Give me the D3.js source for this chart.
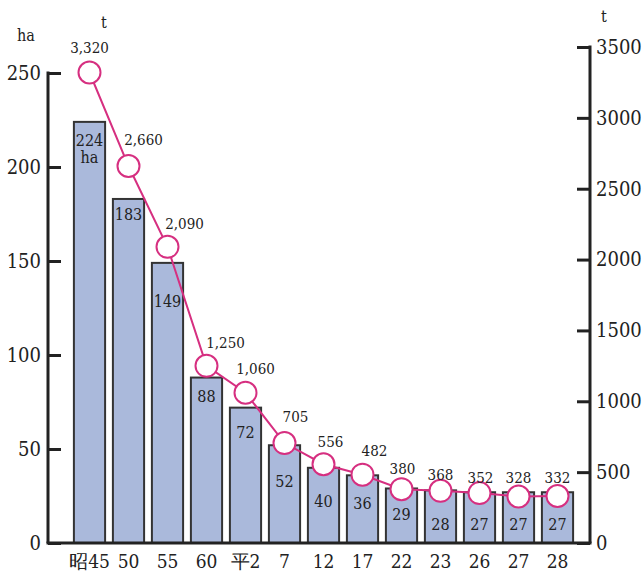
<!DOCTYPE html>
<html>
<head>
<meta charset="utf-8">
<script src="https://cdn.jsdelivr.net/npm/d3@7"></script>
<style>
  body { margin: 0; background: #fff; }
  svg text { font-family: "DejaVu Serif Condensed", "DejaVu Serif", serif; font-stretch: condensed; }
</style>
</head>
<body>
<svg id="chart" width="642" height="572"></svg>
<script>
// data
const years = ["昭45", "50", "55", "60", "平2", "7", "12", "17", "22", "23", "26", "27", "28"];
const areaHa = [224, 183, 149, 88, 72, 52, 40, 36, 29, 28, 27, 27, 27];
const harvestT = [3320, 2660, 2090, 1250, 1060, 705, 556, 482, 380, 368, 352, 328, 332];
const leftTicks = [0, 50, 100, 150, 200, 250];
const rightTicks = [0, 500, 1000, 1500, 2000, 2500, 3000, 3500];

// label nudges (layout only)
const barLabelDy = [24, 21, 44, 24, 30, 42, 39, 34, 32, 40, 38, 38, 38];
const lineLabelDx = [0, 15, 17, 19, 10, 11, 7, 12, 1, 0, 1, 0, 0];
const lineLabelDy = [-20, -21, -18, -18, -19, -21, -17, -19, -15, -11, -10, -14, -13];

const svg = d3.select("#chart");
const bottom = 543, axisL = 48, axisR = 590;

const x = d3.scaleBand().domain(years).range([70, 577]).paddingInner(0.2).paddingOuter(0.1);
const yL = d3.scaleLinear().domain([0, 250]).range([bottom, 73]);
const yR = d3.scaleLinear().domain([0, 3500]).range([bottom, 47]);

const pink = "#d62f80";

// bars
svg.selectAll("rect.bar")
  .data(areaHa)
  .enter().append("rect")
  .attr("class", "bar")
  .attr("x", (d, i) => x(years[i]))
  .attr("y", d => yL(d))
  .attr("width", x.bandwidth())
  .attr("height", d => bottom - yL(d))
  .attr("fill", "#aab9db")
  .attr("stroke", "#333")
  .attr("stroke-width", 2);

// bar value labels
svg.selectAll("text.barlab")
  .data(areaHa)
  .enter().append("text")
  .attr("class", "barlab")
  .attr("x", (d, i) => x(years[i]) + x.bandwidth() / 2)
  .attr("y", (d, i) => yL(d) + barLabelDy[i])
  .attr("text-anchor", "middle")
  .attr("font-size", 16)
  .attr("fill", "#222")
  .text(d => d);

svg.append("text")
  .attr("x", x(years[0]) + x.bandwidth() / 2)
  .attr("y", yL(areaHa[0]) + barLabelDy[0] + 17)
  .attr("text-anchor", "middle")
  .attr("font-size", 16)
  .attr("fill", "#222")
  .text("ha");

// axes
const axisLeft = d3.axisLeft(yL).tickValues(leftTicks).tickSize(-13).tickPadding(20);
const gl = svg.append("g").attr("transform", `translate(${axisL},0)`).call(axisLeft);
const axisRight = d3.axisRight(yR).tickValues(rightTicks).tickSize(-13).tickPadding(19)
  .tickFormat(d3.format("d"));
const gr = svg.append("g").attr("transform", `translate(${axisR},0)`).call(axisRight);

[gl, gr].forEach(g => {
  g.select(".domain").remove();
  g.selectAll(".tick line").attr("stroke", "#222").attr("stroke-width", 3);
  g.selectAll(".tick text")
    .attr("font-size", 20)
    .attr("fill", "#222");
});
gl.selectAll(".tick text").attr("dx", 13);
gr.selectAll(".tick text").attr("dx", -13);

// axis frame lines
svg.append("line").attr("x1", axisL).attr("x2", axisL).attr("y1", yL(250) - 1.5).attr("y2", bottom)
  .attr("stroke", "#222").attr("stroke-width", 3);
svg.append("line").attr("x1", axisR).attr("x2", axisR).attr("y1", yR(3500) - 1.5).attr("y2", bottom)
  .attr("stroke", "#222").attr("stroke-width", 3);
svg.append("line").attr("x1", axisL - 1.5).attr("x2", axisR + 1.5).attr("y1", bottom).attr("y2", bottom)
  .attr("stroke", "#222").attr("stroke-width", 3);

// category labels
svg.selectAll("text.cat")
  .data(years)
  .enter().append("text")
  .attr("class", "cat")
  .attr("x", d => x(d) + x.bandwidth() / 2)
  .attr("y", 568)
  .attr("text-anchor", "middle")
  .attr("font-size", 19)
  .attr("fill", "#222")
  .text(d => d);

// line
const cx = (d, i) => x(years[i]) + x.bandwidth() / 2;
const line = d3.line().x(cx).y(d => yR(d));
svg.append("path")
  .datum(harvestT)
  .attr("d", line)
  .attr("fill", "none")
  .attr("stroke", pink)
  .attr("stroke-width", 2);

svg.selectAll("circle.pt")
  .data(harvestT)
  .enter().append("circle")
  .attr("class", "pt")
  .attr("cx", cx)
  .attr("cy", d => yR(d))
  .attr("r", 11)
  .attr("fill", "#fff")
  .attr("stroke", pink)
  .attr("stroke-width", 2);

svg.selectAll("text.ptlab")
  .data(harvestT)
  .enter().append("text")
  .attr("class", "ptlab")
  .attr("x", (d, i) => cx(d, i) + lineLabelDx[i])
  .attr("y", (d, i) => yR(d) + lineLabelDy[i])
  .attr("text-anchor", "middle")
  .attr("font-size", 15)
  .attr("fill", "#222")
  .text(d => d3.format(",")(d));

// unit labels
const unit = (tx, ty, s) => svg.append("text").attr("x", tx).attr("y", ty)
  .attr("text-anchor", "middle").attr("font-size", 16)
  .attr("fill", "#222").text(s);
unit(26, 41, "ha");
unit(104, 28, "t");
unit(604, 22, "t");
</script>
</body>
</html>
